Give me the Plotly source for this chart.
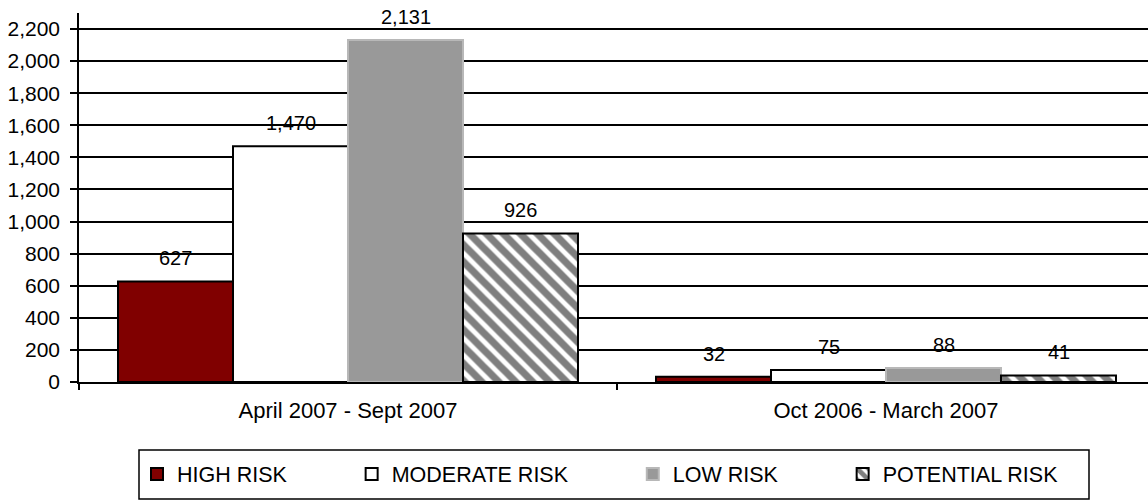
import plotly.graph_objects as go

categories = ["April 2007 - Sept 2007", "Oct 2006 - March 2007"]
series_names = ["HIGH RISK", "MODERATE RISK", "LOW RISK", "POTENTIAL RISK"]
high_risk = [627, 32]
moderate_risk = [1470, 75]
low_risk = [2131, 88]
potential_risk = [926, 41]
y_ticks = list(range(0, 2201, 200))

FONT = "Liberation Sans, Arial, sans-serif"
PAD = "\u00a0" * 10

styles = [
    dict(marker=dict(color="#800000", line=dict(color="#000000", width=2))),
    dict(marker=dict(color="#ffffff", line=dict(color="#000000", width=2))),
    dict(marker=dict(color="#999999", line=dict(color="#b8b8b8", width=2))),
    dict(marker=dict(color="#ffffff", line=dict(color="#000000", width=2),
                     pattern=dict(shape="\\", fgcolor="#000000", bgcolor="#ffffff",
                                  size=12, solidity=0.6))),
]
values = [high_risk, moderate_risk, low_risk, potential_risk]

fig = go.Figure()
for i, (name, vals, st) in enumerate(zip(series_names, values, styles)):
    legend_name = name + (PAD if i < len(series_names) - 1 else "")
    fig.add_trace(go.Bar(x=categories, y=vals, name=legend_name, **st))

# value labels above bars
bar_px = 115
offsets = [(j - 1.5) * bar_px for j in range(4)]
for j, vals in enumerate(values):
    for c, v in zip(categories, vals):
        fig.add_annotation(x=c, y=v, text=f"{v:,}", showarrow=False,
                           xref="x", yref="y", xshift=offsets[j], yshift=10,
                           yanchor="bottom",
                           font=dict(family=FONT, size=20, color="#000000"))

# legend box
W, H = 1148, 500
l, t, b = 79, 13, 118
pw, ph = W - l, H - t - b
def px_x(p):
    return (p - l) / pw
def px_y(p):
    return (H - b - p) / ph
fig.add_shape(type="rect", xref="paper", yref="paper",
              x0=px_x(139), x1=px_x(1089), y0=px_y(499), y1=px_y(450),
              line=dict(color="#000000", width=1.5), fillcolor="rgba(0,0,0,0)")

fig.update_layout(
    width=W, height=H,
    margin=dict(l=l, r=0, t=t, b=b, pad=0, autoexpand=False),
    paper_bgcolor="#ffffff", plot_bgcolor="#ffffff",
    barmode="group", bargap=0.145, bargroupgap=0,
    font=dict(family=FONT, size=20, color="#000000"),
    showlegend=True,
    legend=dict(orientation="h", xref="container", yref="container",
                x=137 / W, xanchor="left", y=1 - 474 / H, yanchor="middle",
                font=dict(family=FONT, size=21.5, color="#000000"),
                bgcolor="rgba(0,0,0,0)", borderwidth=0, traceorder="normal"),
)
fig.update_xaxes(range=[-0.5, 1.487], showline=True, linecolor="#000000", linewidth=1.5,
                 ticks="outside", tickson="boundaries", ticklen=6, tickcolor="#000000",
                 tickwidth=1.5, showgrid=False, ticklabelstandoff=8,
                 tickfont=dict(family=FONT, size=22, color="#000000"))
fig.update_yaxes(range=[0, 2300], tickvals=y_ticks, tickformat=",", showline=True,
                 linecolor="#000000", linewidth=1.5, ticks="outside", ticklen=7,
                 tickcolor="#000000", tickwidth=1.5, showgrid=True, gridcolor="#000000",
                 gridwidth=1.5, zeroline=False, ticklabelstandoff=6,
                 tickfont=dict(family=FONT, size=21, color="#000000"))

fig.write_html("out.html", config={"displayModeBar": False},
               post_script="document.body.style.margin='0';")
